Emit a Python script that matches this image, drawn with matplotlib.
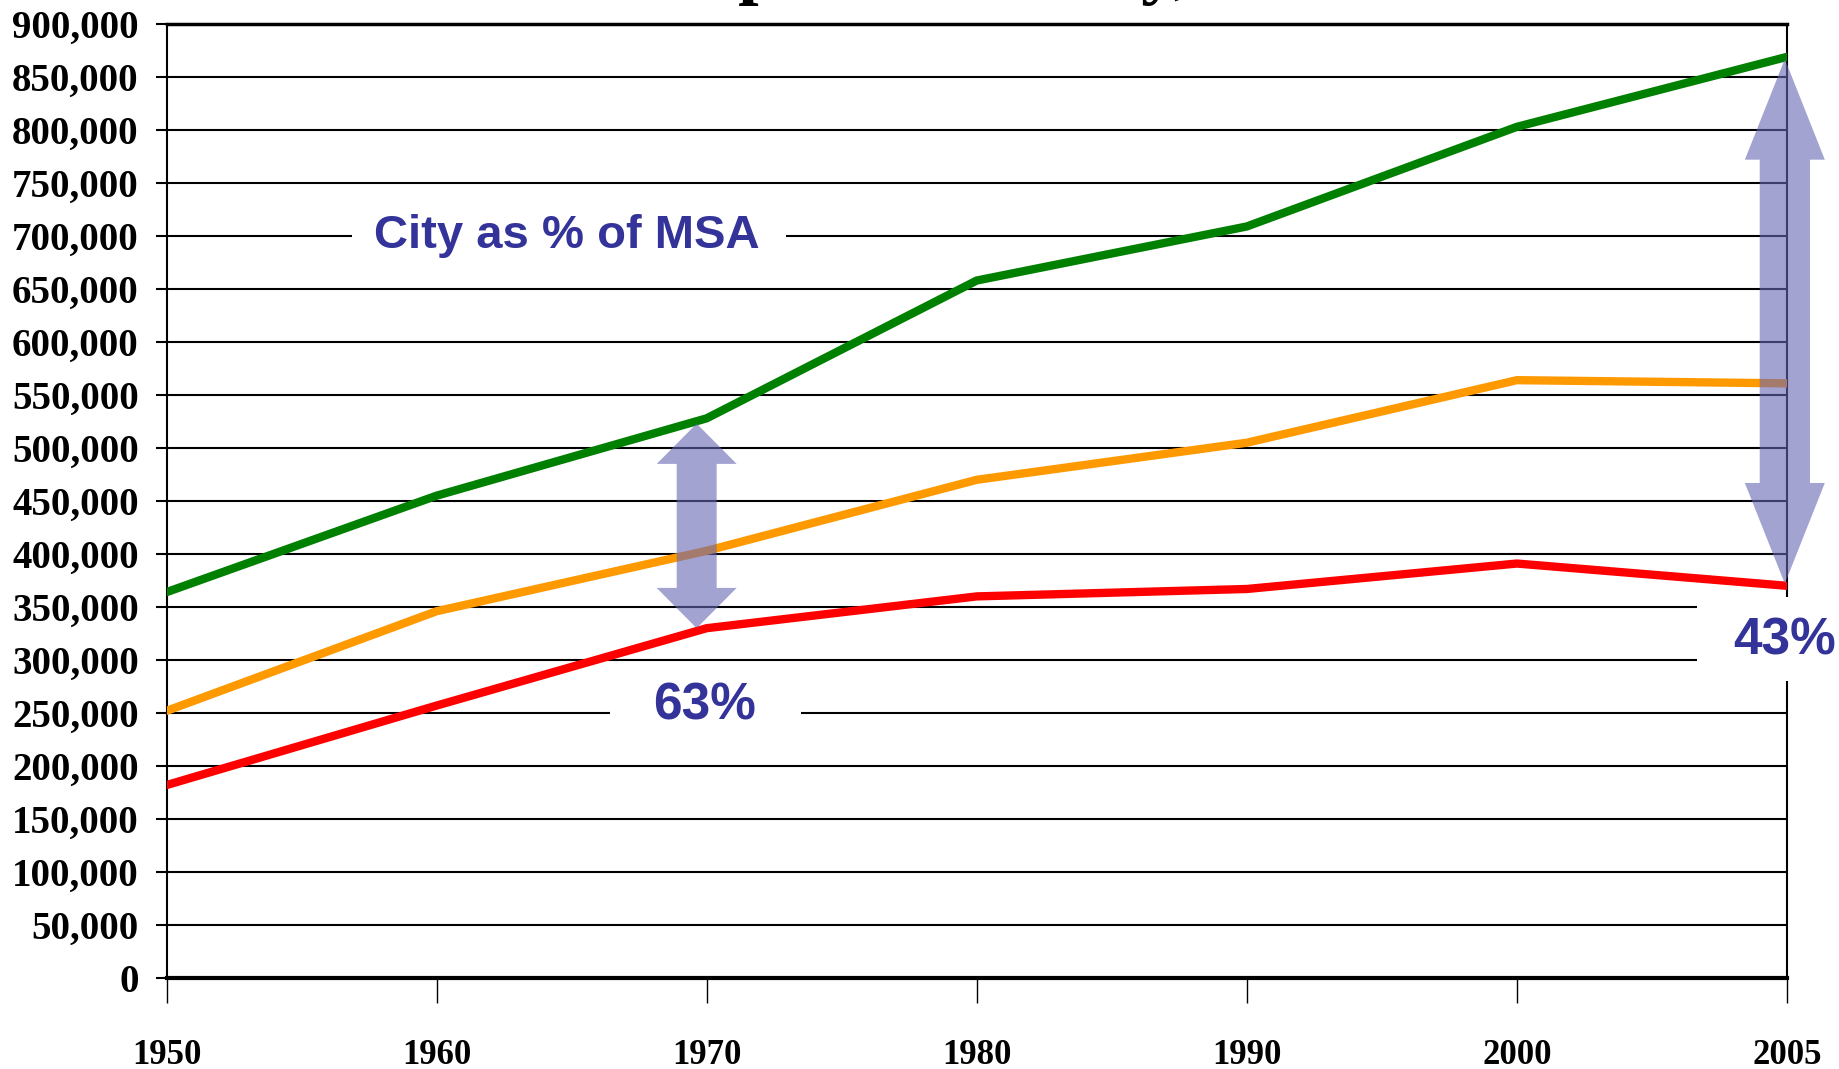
import matplotlib.pyplot as plt
from matplotlib.patches import Polygon, Rectangle

# data
years = ['1950', '1960', '1970', '1980', '1990', '2000', '2005']
msa = [364000, 455000, 528000, 658000, 709000, 803000, 869000]
county = [252000, 346000, 403000, 470000, 505000, 564000, 561000]
city = [182000, 257000, 330000, 360000, 367000, 391000, 370000]
yticks = list(range(0, 900001, 50000))
ytick_labels = ['{:,}'.format(v) for v in yticks]

navy = '#333399'
serif = 'Liberation Serif'
sans = 'Liberation Sans'


def double_arrow(ax, xc, y0, y1, shaft_hw, head_hw, head_len):
    # vertical block arrow with a head at both ends
    pts = [
        (xc, y1),
        (xc + head_hw, y1 - head_len),
        (xc + shaft_hw, y1 - head_len),
        (xc + shaft_hw, y0 + head_len),
        (xc + head_hw, y0 + head_len),
        (xc, y0),
        (xc - head_hw, y0 + head_len),
        (xc - shaft_hw, y0 + head_len),
        (xc - shaft_hw, y1 - head_len),
        (xc - head_hw, y1 - head_len),
    ]
    ax.add_patch(Polygon(pts, closed=True, facecolor='#6666B3', alpha=0.6,
                         edgecolor='none', zorder=5, clip_on=False))


def label(ax, x, y, s, size, box):
    # white patch hides the gridlines behind the label
    x0, x1, y0, y1 = box
    ax.add_patch(Rectangle((x0, y0), x1 - x0, y1 - y0, facecolor='white',
                           edgecolor='none', zorder=3, clip_on=False))
    ax.text(x, y, s, color=navy, fontsize=size, fontfamily=sans,
            fontweight='bold', ha='center', va='center', zorder=3.5,
            clip_on=False)


fig = plt.figure(figsize=(18.39, 10.69), dpi=100)
ax = fig.add_axes([166.5 / 1839, 1 - 978 / 1069, 1620.5 / 1839, 954 / 1069])

x = list(range(len(years)))
ax.plot(x, msa, color='#008000', lw=6, solid_capstyle='round', zorder=4)
ax.plot(x, county, color='#FF9900', lw=6, solid_capstyle='round', zorder=4)
ax.plot(x, city, color='#FF0000', lw=6, solid_capstyle='round', zorder=4)

ax.set_xlim(0, 6)
ax.set_ylim(0, 900000)
ax.set_xticks(x)
ax.set_xticklabels(years)
ax.set_yticks(yticks)
ax.set_yticklabels(ytick_labels)

ax.set_axisbelow(True)
ax.yaxis.grid(True, color='black', lw=1.5)
for s in ['left', 'right']:
    ax.spines[s].set_linewidth(1.5)
ax.spines['top'].set_linewidth(2.5)
ax.spines['bottom'].set_linewidth(3)

ax.tick_params(axis='y', length=8, width=1.5, pad=12)
ax.tick_params(axis='x', length=18, width=1, pad=26)
for lab in ax.get_yticklabels():
    lab.set_fontfamily(serif)
    lab.set_fontweight('bold')
    lab.set_fontsize(28)
for lab in ax.get_xticklabels():
    lab.set_fontfamily(serif)
    lab.set_fontweight('bold')
    lab.set_fontsize(25)

# annotations
label(ax, 1.483, 700000, 'City as % of MSA', 34, (0.687, 2.294, 680000, 720000))
label(ax, 1.994, 257000, '63%', 37, (1.642, 2.349, 228000, 282000))
label(ax, 5.992, 318000, '43%', 37, (5.666, 6.4, 280000, 359000))

double_arrow(ax, 1.963, 330000, 523000, 0.074, 0.148, 38000)
double_arrow(ax, 5.992, 372000, 867000, 0.093, 0.148, 95000)

# title, mostly cut off by the top edge
fig.text(469 / 1839, 1 + 10 / 1069, 'Tulsa Population: City,', fontsize=53,
         fontfamily=serif, fontweight='bold', ha='left', va='baseline')

fig.savefig('out.png', dpi=100)
